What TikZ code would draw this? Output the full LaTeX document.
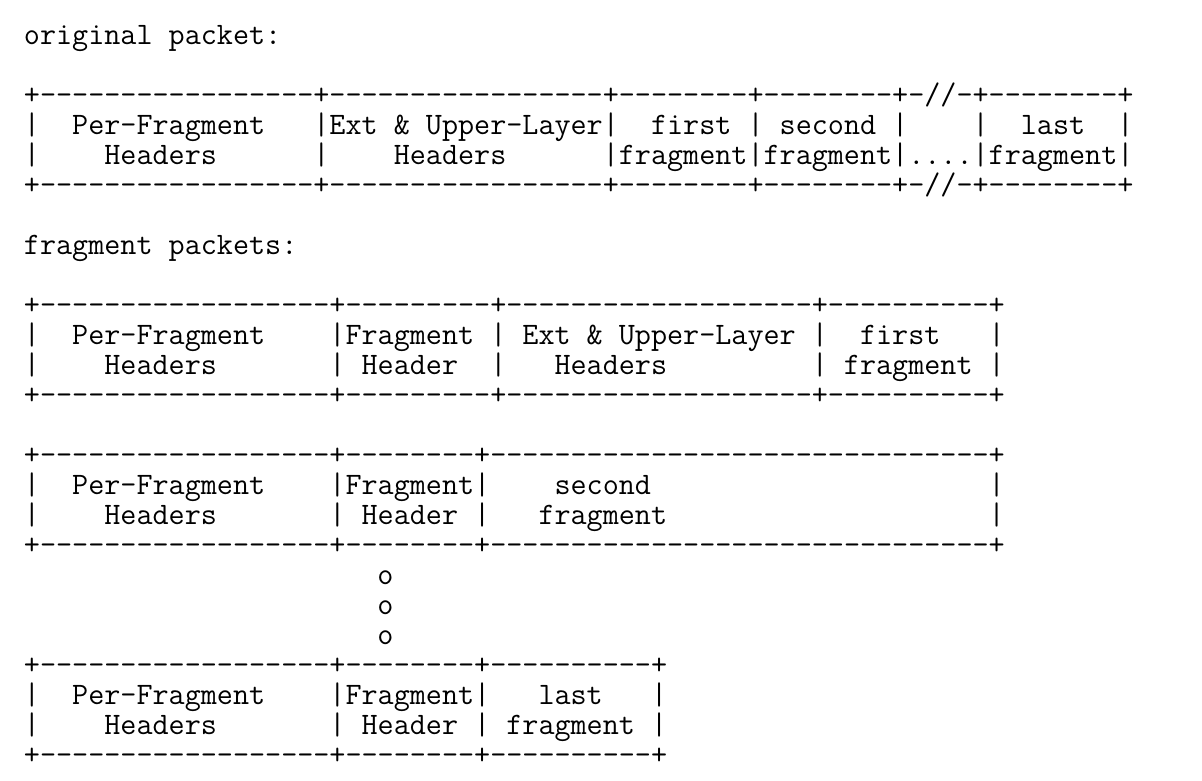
\documentclass[tikz,border=0pt]{standalone}
\tikzset{ascii/.style={anchor=base west, inner sep=0pt, outer sep=0pt,
	font=\ttfamily\fontsize{15.61pt}{15pt}\selectfont}}
\begin{document}
\begin{tikzpicture}[x=8.0294pt,y=-15pt]
			\useasboundingbox (-1.4945,-1.4833) rectangle (73.355,24.5167);
			
			%Original packet
			\node (orig title) at (0,0) [ascii]{original~packet:};
			\node (orig top) at (0,2) [ascii]{+-----------------+-----------------+--------+--------+-//-+--------+};
			\node (orig names) at (0,3) [ascii]{|~~Per-Fragment~~~|Ext~\&~Upper-Layer|~~first~|~second~|~~~~|~~last~~|};
			\node (orig kinds) at (0,4) [ascii]{|~~~~Headers~~~~~~|~~~~Headers~~~~~~|fragment|fragment|....|fragment|};
			\node (orig bottom) at (0,5) [ascii]{+-----------------+-----------------+--------+--------+-//-+--------+};
			
			%Fragment packets
			\node (frag title) at (0,7) [ascii]{fragment~packets:};
			
			%First fragment packet
			\node (first top) at (0,9) [ascii]{+------------------+---------+-------------------+----------+};
			\node (first names) at (0,10) [ascii]{|~~Per-Fragment~~~~|Fragment~|~Ext~\&~Upper-Layer~|~~first~~~|};
			\node (first kinds) at (0,11) [ascii]{|~~~~Headers~~~~~~~|~Header~~|~~~Headers~~~~~~~~~|~fragment~|};
			\node (first bottom) at (0,12) [ascii]{+------------------+---------+-------------------+----------+};
			
			%Second fragment packet
			\node (second top) at (0,14) [ascii]{+------------------+--------+-------------------------------+};
			\node (second names) at (0,15) [ascii]{|~~Per-Fragment~~~~|Fragment|~~~~second~~~~~~~~~~~~~~~~~~~~~|};
			\node (second kinds) at (0,16) [ascii]{|~~~~Headers~~~~~~~|~Header~|~~~fragment~~~~~~~~~~~~~~~~~~~~|};
			\node (second bottom) at (0,17) [ascii]{+------------------+--------+-------------------------------+};
			
			%Dots
			\node (dot a) at (22,18) [ascii]{o};
			\node (dot b) at (22,19) [ascii]{o};
			\node (dot c) at (22,20) [ascii]{o};
			
			%Last fragment packet
			\node (last top) at (0,21) [ascii]{+------------------+--------+----------+};
			\node (last names) at (0,22) [ascii]{|~~Per-Fragment~~~~|Fragment|~~~last~~~|};
			\node (last kinds) at (0,23) [ascii]{|~~~~Headers~~~~~~~|~Header~|~fragment~|};
			\node (last bottom) at (0,24) [ascii]{+------------------+--------+----------+};
			
\end{tikzpicture}
\end{document}
